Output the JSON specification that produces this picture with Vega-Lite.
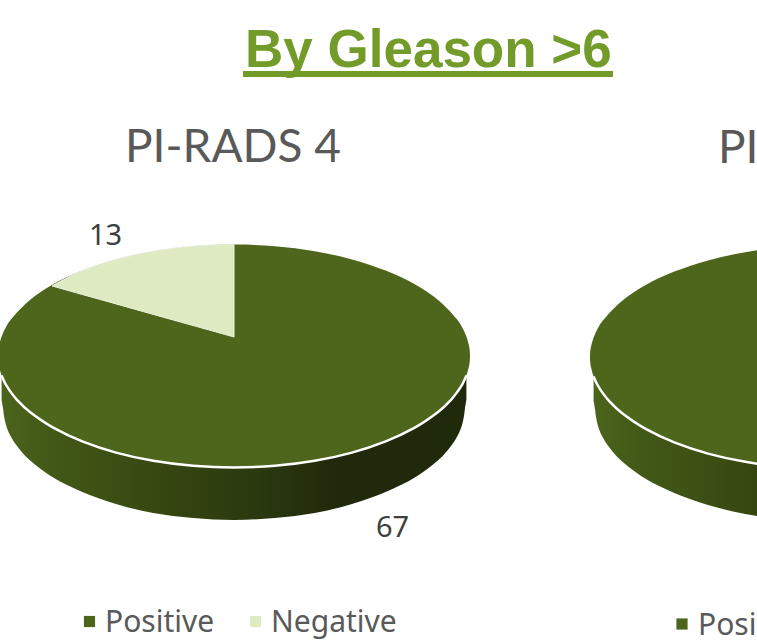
{
"$schema":"https://vega.github.io/schema/vega-lite/v6.json",
"width":757,"height":642,"padding":0,"autosize":{"type":"none"},
"background":"#ffffff",
"config":{"view":{"stroke":null}},
"datasets":{
"top":[
{"pie":"PI-RADS 4","x":-0.2,"y":28.6,"y2":28.6},{"pie":"PI-RADS 4","x":-0.18,"y":29.09,"y2":28.11},{"pie":"PI-RADS 4","x":-0.11,"y":29.57,"y2":27.63},{"pie":"PI-RADS 4","x":0.16,"y":30.54,"y2":26.66},{"pie":"PI-RADS 4","x":0.6,"y":31.49,"y2":25.71},{"pie":"PI-RADS 4","x":1.22,"y":32.41,"y2":24.79},{"pie":"PI-RADS 4","x":2.96,"y":34.18,"y2":23.02},{"pie":"PI-RADS 4","x":5.32,"y":35.77,"y2":21.43},{"pie":"PI-RADS 4","x":8.23,"y":37.14,"y2":20.06},{"pie":"PI-RADS 4","x":11.6,"y":38.26,"y2":18.94},{"pie":"PI-RADS 4","x":15.33,"y":39.08,"y2":18.12},{"pie":"PI-RADS 4","x":19.3,"y":39.58,"y2":17.62},{"pie":"PI-RADS 4","x":23.4,"y":39.75,"y2":17.45},{"pie":"PI-RADS 4","x":27.5,"y":39.58,"y2":17.62},{"pie":"PI-RADS 4","x":31.47,"y":39.08,"y2":18.12},{"pie":"PI-RADS 4","x":35.2,"y":38.26,"y2":18.94},{"pie":"PI-RADS 4","x":38.57,"y":37.14,"y2":20.06},{"pie":"PI-RADS 4","x":41.48,"y":35.77,"y2":21.43},{"pie":"PI-RADS 4","x":43.84,"y":34.18,"y2":23.02},{"pie":"PI-RADS 4","x":45.58,"y":32.41,"y2":24.79},{"pie":"PI-RADS 4","x":46.2,"y":31.49,"y2":25.71},{"pie":"PI-RADS 4","x":46.64,"y":30.54,"y2":26.66},{"pie":"PI-RADS 4","x":46.91,"y":29.57,"y2":27.63},{"pie":"PI-RADS 4","x":46.98,"y":29.09,"y2":28.11},{"pie":"PI-RADS 4","x":47.0,"y":28.6,"y2":28.6},
{"pie":"PI-RADS 5","x":59.0,"y":28.5,"y2":28.5},{"pie":"PI-RADS 5","x":59.02,"y":28.99,"y2":28.01},{"pie":"PI-RADS 5","x":59.09,"y":29.47,"y2":27.53},{"pie":"PI-RADS 5","x":59.36,"y":30.44,"y2":26.56},{"pie":"PI-RADS 5","x":59.8,"y":31.39,"y2":25.61},{"pie":"PI-RADS 5","x":60.42,"y":32.31,"y2":24.69},{"pie":"PI-RADS 5","x":62.16,"y":34.08,"y2":22.92},{"pie":"PI-RADS 5","x":64.52,"y":35.67,"y2":21.33},{"pie":"PI-RADS 5","x":67.43,"y":37.04,"y2":19.96},{"pie":"PI-RADS 5","x":70.8,"y":38.16,"y2":18.84},{"pie":"PI-RADS 5","x":74.53,"y":38.98,"y2":18.02},{"pie":"PI-RADS 5","x":78.5,"y":39.48,"y2":17.52},{"pie":"PI-RADS 5","x":82.6,"y":39.65,"y2":17.35},{"pie":"PI-RADS 5","x":86.7,"y":39.48,"y2":17.52},{"pie":"PI-RADS 5","x":90.67,"y":38.98,"y2":18.02},{"pie":"PI-RADS 5","x":94.4,"y":38.16,"y2":18.84},{"pie":"PI-RADS 5","x":97.77,"y":37.04,"y2":19.96},{"pie":"PI-RADS 5","x":100.68,"y":35.67,"y2":21.33},{"pie":"PI-RADS 5","x":103.04,"y":34.08,"y2":22.92},{"pie":"PI-RADS 5","x":104.78,"y":32.31,"y2":24.69},{"pie":"PI-RADS 5","x":105.4,"y":31.39,"y2":25.61},{"pie":"PI-RADS 5","x":105.84,"y":30.44,"y2":26.56},{"pie":"PI-RADS 5","x":106.11,"y":29.47,"y2":27.53},{"pie":"PI-RADS 5","x":106.18,"y":28.99,"y2":28.01},{"pie":"PI-RADS 5","x":106.2,"y":28.5,"y2":28.5}
],
"wedge":[
{"pie":"PI-RADS 4","x":5.2,"y":35.6,"y2":35.6},{"pie":"PI-RADS 4","x":8.23,"y":37.14,"y2":34.75},{"pie":"PI-RADS 4","x":11.6,"y":38.26,"y2":33.81},{"pie":"PI-RADS 4","x":15.33,"y":39.08,"y2":32.76},{"pie":"PI-RADS 4","x":19.3,"y":39.58,"y2":31.65},{"pie":"PI-RADS 4","x":23.4,"y":39.75,"y2":30.5}
],
"side":[
{"pie":"PI-RADS 4","x":0.16,"y":26.66,"y2":24.2},{"pie":"PI-RADS 4","x":0.3,"y":26.32,"y2":23.4},{"pie":"PI-RADS 4","x":0.4,"y":26.1,"y2":22.6},{"pie":"PI-RADS 4","x":0.6,"y":25.71,"y2":21.7},{"pie":"PI-RADS 4","x":1.0,"y":25.1,"y2":20.7},{"pie":"PI-RADS 4","x":1.7,"y":24.22,"y2":19.6},{"pie":"PI-RADS 4","x":2.96,"y":23.02,"y2":18.2},{"pie":"PI-RADS 4","x":5.32,"y":21.43,"y2":16.44},{"pie":"PI-RADS 4","x":8.23,"y":20.06,"y2":15.0},{"pie":"PI-RADS 4","x":11.6,"y":18.94,"y2":13.8},{"pie":"PI-RADS 4","x":15.33,"y":18.12,"y2":12.9},{"pie":"PI-RADS 4","x":19.3,"y":17.62,"y2":12.4},{"pie":"PI-RADS 4","x":23.4,"y":17.45,"y2":12.2},{"pie":"PI-RADS 4","x":27.5,"y":17.62,"y2":12.4},{"pie":"PI-RADS 4","x":31.47,"y":18.12,"y2":12.9},{"pie":"PI-RADS 4","x":35.2,"y":18.94,"y2":13.8},{"pie":"PI-RADS 4","x":38.57,"y":20.06,"y2":15.0},{"pie":"PI-RADS 4","x":41.48,"y":21.43,"y2":16.44},{"pie":"PI-RADS 4","x":43.84,"y":23.02,"y2":18.2},{"pie":"PI-RADS 4","x":45.1,"y":24.22,"y2":19.6},{"pie":"PI-RADS 4","x":45.8,"y":25.1,"y2":20.7},{"pie":"PI-RADS 4","x":46.2,"y":25.71,"y2":21.7},{"pie":"PI-RADS 4","x":46.4,"y":26.1,"y2":22.6},{"pie":"PI-RADS 4","x":46.5,"y":26.32,"y2":23.4},{"pie":"PI-RADS 4","x":46.64,"y":26.66,"y2":24.2},
{"pie":"PI-RADS 5","x":59.36,"y":26.56,"y2":24.1},{"pie":"PI-RADS 5","x":59.5,"y":26.22,"y2":23.3},{"pie":"PI-RADS 5","x":59.6,"y":26.0,"y2":22.5},{"pie":"PI-RADS 5","x":59.8,"y":25.61,"y2":21.6},{"pie":"PI-RADS 5","x":60.2,"y":25.0,"y2":20.6},{"pie":"PI-RADS 5","x":60.9,"y":24.12,"y2":19.5},{"pie":"PI-RADS 5","x":62.16,"y":22.92,"y2":18.1},{"pie":"PI-RADS 5","x":64.52,"y":21.33,"y2":16.34},{"pie":"PI-RADS 5","x":67.43,"y":19.96,"y2":14.9},{"pie":"PI-RADS 5","x":70.8,"y":18.84,"y2":13.7},{"pie":"PI-RADS 5","x":74.53,"y":18.02,"y2":12.8},{"pie":"PI-RADS 5","x":78.5,"y":17.52,"y2":12.3},{"pie":"PI-RADS 5","x":82.6,"y":17.35,"y2":12.1},{"pie":"PI-RADS 5","x":86.7,"y":17.52,"y2":12.3},{"pie":"PI-RADS 5","x":90.67,"y":18.02,"y2":12.8},{"pie":"PI-RADS 5","x":94.4,"y":18.84,"y2":13.7},{"pie":"PI-RADS 5","x":97.77,"y":19.96,"y2":14.9},{"pie":"PI-RADS 5","x":100.68,"y":21.33,"y2":16.34},{"pie":"PI-RADS 5","x":103.04,"y":22.92,"y2":18.1},{"pie":"PI-RADS 5","x":104.3,"y":24.12,"y2":19.5},{"pie":"PI-RADS 5","x":105.0,"y":25.0,"y2":20.6},{"pie":"PI-RADS 5","x":105.4,"y":25.61,"y2":21.6},{"pie":"PI-RADS 5","x":105.6,"y":26.0,"y2":22.5},{"pie":"PI-RADS 5","x":105.7,"y":26.22,"y2":23.3},{"pie":"PI-RADS 5","x":105.84,"y":26.56,"y2":24.1}
],
"text":[
{"kind":"title","label":"By Gleason >6","x":24.5,"y":57.5},
{"kind":"pie","label":"PI-RADS 4","x":12.5,"y":48.0},
{"kind":"pie","label":"PI-RADS 5","x":71.8,"y":47.9},
{"kind":"value","label":"13","x":8.9,"y":39.7},
{"kind":"value","label":"67","x":37.6,"y":10.5},
{"kind":"legend","label":"Positive","x":10.5,"y":1.0},
{"kind":"legend","label":"Negative","x":27.1,"y":1.0},
{"kind":"legend","label":"Positive","x":69.8,"y":0.7}
],
"legend":[
{"category":"Positive","x":8.95,"y":2.05},
{"category":"Negative","x":25.55,"y":2.05},
{"category":"Positive","x":68.2,"y":1.8}
],
"underline":[{"x":24.3,"x2":61.3,"y":56.8}]
},
"data":{"name":"text"},
"encoding":{
"x":{"field":"x","type":"quantitative","axis":null,"scale":{"domain":[0,75.7],"nice":false,"zero":false}},
"y":{"field":"y","type":"quantitative","axis":null,"scale":{"domain":[0,64.2],"nice":false,"zero":false}}
},
"layer":[
{"data":{"name":"side"},
 "mark":{"type":"area","clip":true,"interpolate":"cardinal","color":{"gradient":"linear","x1":0,"x2":1,"y1":0,"y2":0,"stops":[{"offset":0,"color":"#4b641b"},{"offset":0.1,"color":"#435917"},{"offset":0.24,"color":"#3c4f13"},{"offset":0.35,"color":"#364610"},{"offset":0.55,"color":"#2a390e"},{"offset":0.72,"color":"#20290b"},{"offset":1,"color":"#1f2a0b"}]}},
 "encoding":{"y2":{"field":"y2"},"detail":{"field":"pie"}}},
{"data":{"name":"top"},
 "mark":{"type":"area","clip":true,"interpolate":"cardinal","color":"#4e661c"},
 "encoding":{"y2":{"field":"y2"},"detail":{"field":"pie"}}},
{"data":{"name":"wedge"},
 "mark":{"type":"area","clip":true,"interpolate":"cardinal","color":"#ddeac2","stroke":"#eef3e2","strokeWidth":1},
 "encoding":{"y2":{"field":"y2"},"detail":{"field":"pie"}}},
{"data":{"name":"side"},
 "mark":{"type":"line","clip":true,"interpolate":"cardinal","color":"#ffffff","strokeWidth":2.5},
 "encoding":{"detail":{"field":"pie"}}},
{"data":{"name":"underline"},
 "mark":{"type":"rule","color":"#739b2a","strokeWidth":6},
 "encoding":{"x2":{"field":"x2"}}},
{"data":{"name":"legend"},
 "mark":{"type":"point","shape":"square","filled":true,"size":125,"opacity":1},
 "encoding":{"color":{"field":"category","type":"nominal","legend":null,"scale":{"domain":["Positive","Negative"],"range":["#4e661c","#ddeac2"]}}}},
{"transform":[{"filter":"datum.kind==='title'"}],
 "mark":{"type":"text","align":"left","baseline":"alphabetic","font":"Liberation Sans","fontWeight":"bold","fontSize":53,"color":"#739b2a"},
 "encoding":{"text":{"field":"label"}}},
{"transform":[{"filter":"datum.kind==='pie'"}],
 "mark":{"type":"text","align":"left","baseline":"alphabetic","font":"Lato","fontSize":46,"color":"#595959"},
 "encoding":{"text":{"field":"label"}}},
{"transform":[{"filter":"datum.kind==='value'"}],
 "mark":{"type":"text","align":"left","baseline":"alphabetic","font":"Noto Sans","fontSize":29,"color":"#404040"},
 "encoding":{"text":{"field":"label"}}},
{"transform":[{"filter":"datum.kind==='legend'"}],
 "mark":{"type":"text","align":"left","baseline":"alphabetic","font":"Noto Sans","fontSize":30,"color":"#595959"},
 "encoding":{"text":{"field":"label"}}}
]
}
